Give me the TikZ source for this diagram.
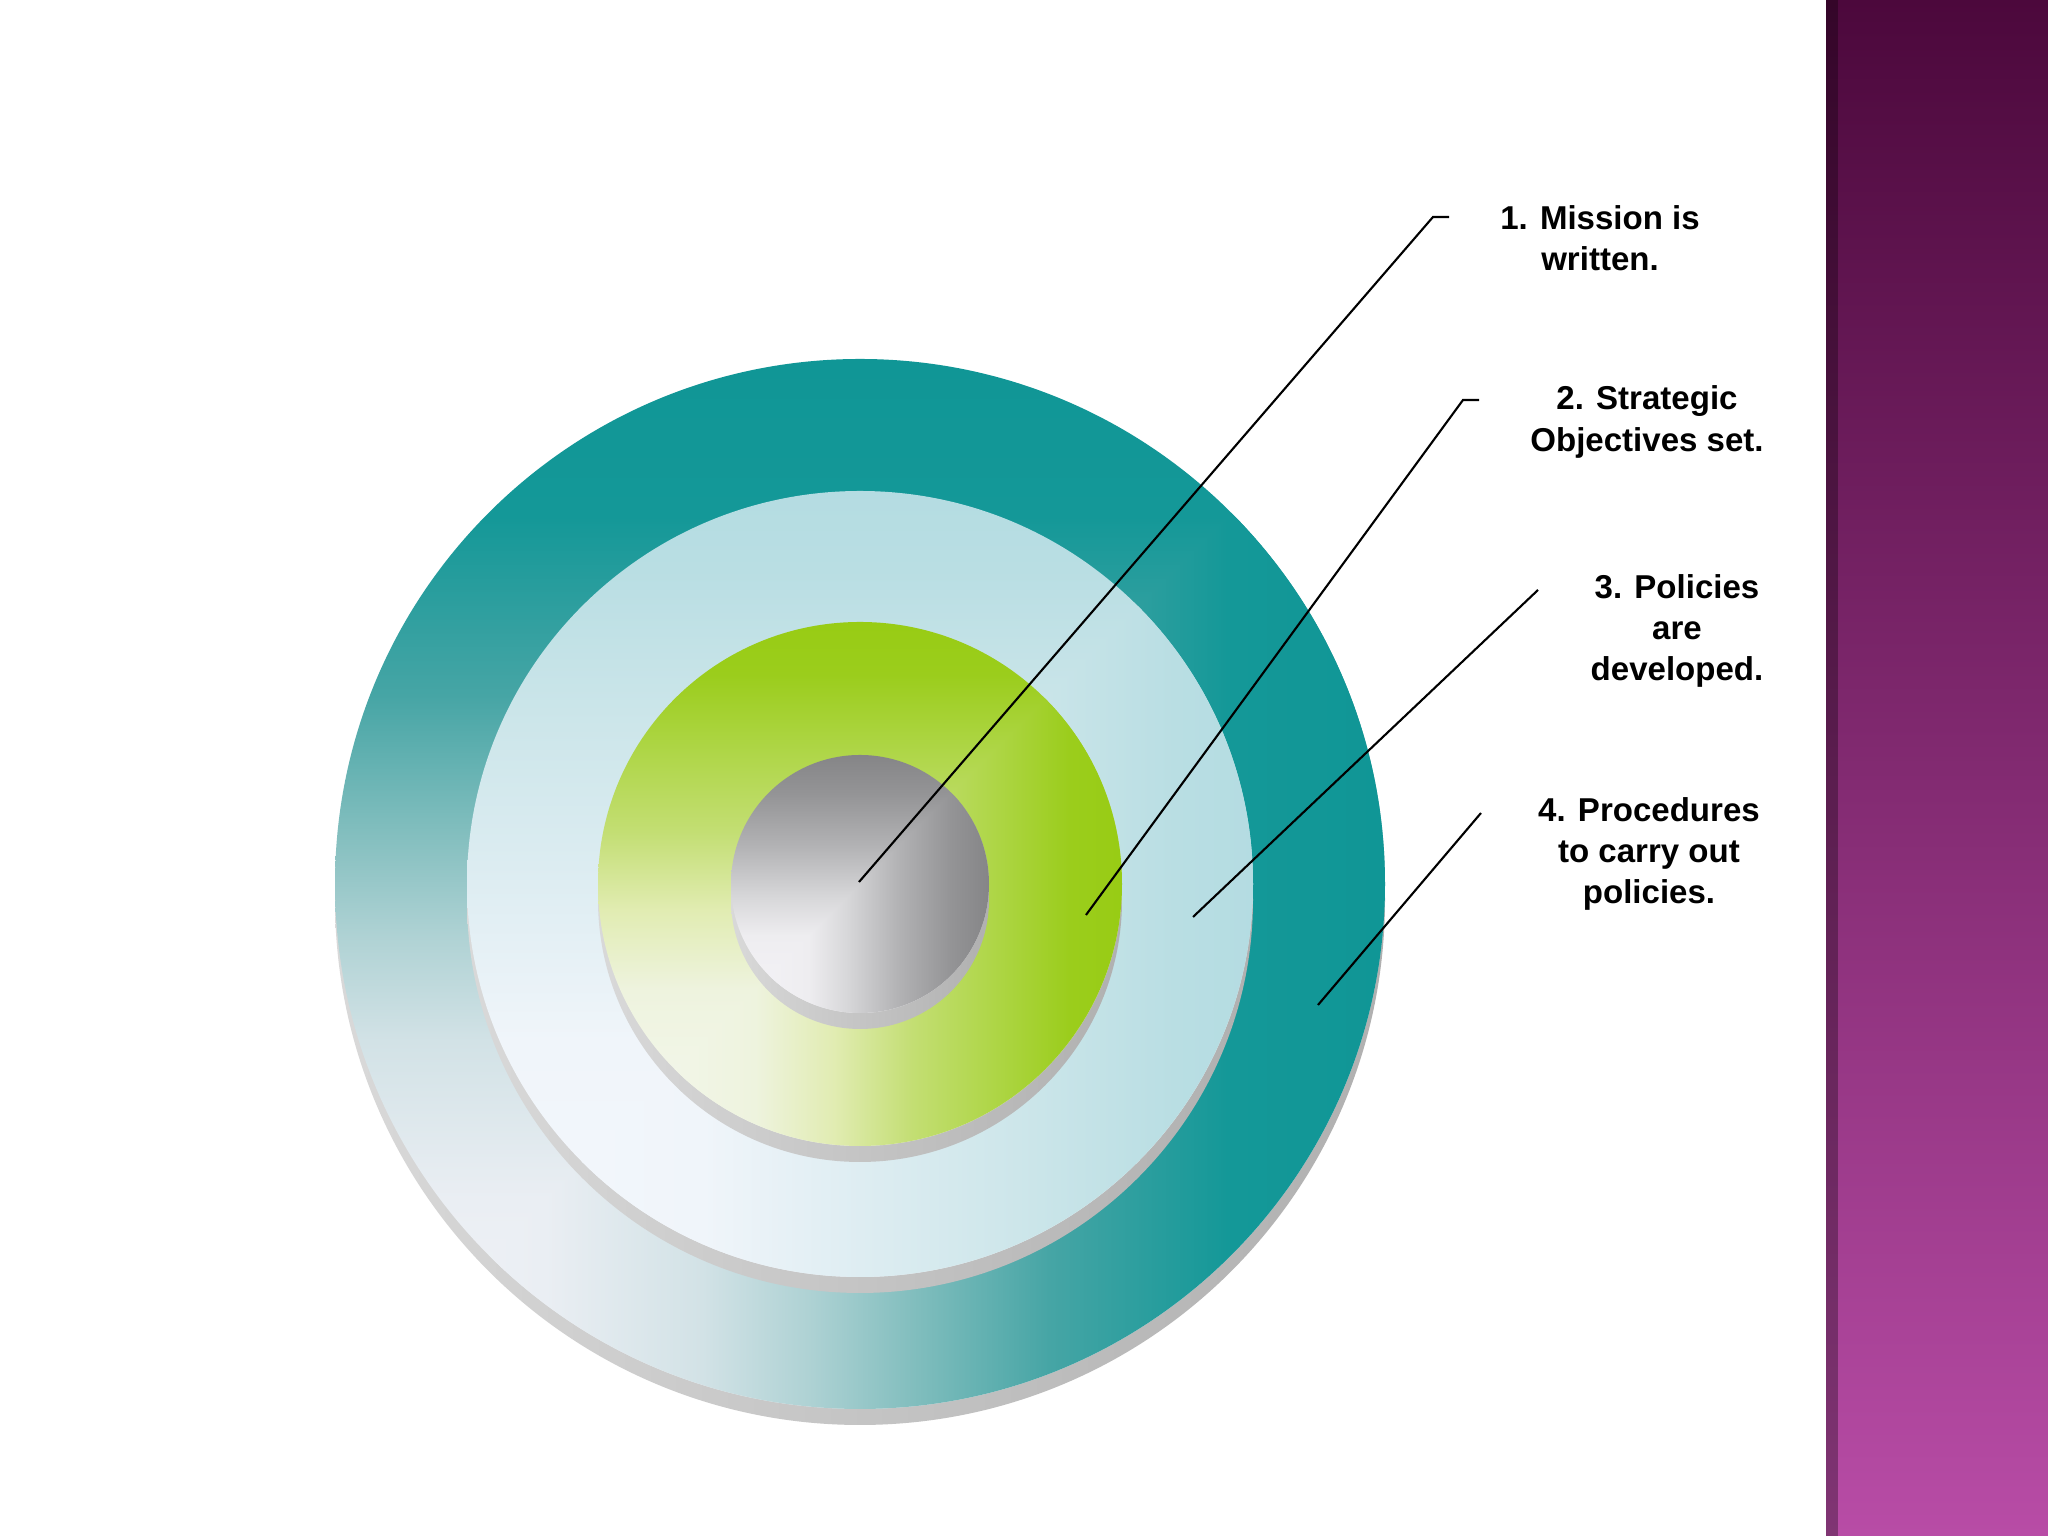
\documentclass[tikz,border=0pt]{standalone}
\usepackage{fontspec}
\setmainfont{Liberation Sans}
\usetikzlibrary{calc}

%% ring colours, light corner to full colour
\definecolor{oA}{RGB}{242,244,248}\definecolor{oB}{RGB}{234,238,243}\definecolor{oC}{RGB}{210,226,230}
\definecolor{oD}{RGB}{175,210,212}\definecolor{oE}{RGB}{130,190,190}\definecolor{oF}{RGB}{70,165,165}
\definecolor{oG}{RGB}{20,152,152}\definecolor{oH}{RGB}{16,150,150}
\definecolor{iA}{RGB}{244,247,252}\definecolor{iB}{RGB}{240,245,250}\definecolor{iC}{RGB}{222,237,242}
\definecolor{iD}{RGB}{205,230,234}\definecolor{iE}{RGB}{185,222,227}\definecolor{iF}{RGB}{180,220,226}
\definecolor{gA}{RGB}{245,248,240}\definecolor{gB}{RGB}{238,243,222}\definecolor{gC}{RGB}{225,236,178}
\definecolor{gD}{RGB}{195,222,115}\definecolor{gE}{RGB}{175,214,72}\definecolor{gF}{RGB}{155,205,28}
\definecolor{gG}{RGB}{152,204,20}
\definecolor{cA}{RGB}{245,244,248}\definecolor{cB}{RGB}{238,237,240}\definecolor{cC}{RGB}{215,215,217}
\definecolor{cD}{RGB}{178,178,180}\definecolor{cE}{RGB}{148,148,150}\definecolor{cF}{RGB}{133,133,135}
\definecolor{barTop}{RGB}{76,8,60}
\definecolor{barMid}{RGB}{128,44,110}
\definecolor{barBot}{RGB}{184,76,166}

\pgfdeclareverticalshading{outerring}{100bp}{color(0bp)=(oA); color(25bp)=(oA); color(35bp)=(oB);
  color(42.5bp)=(oC); color(47.5bp)=(oD); color(52.5bp)=(oE); color(59bp)=(oF); color(67.5bp)=(oG);
  color(75bp)=(oH); color(100bp)=(oH)}
\pgfdeclareverticalshading{icering}{100bp}{color(0bp)=(iA); color(25bp)=(iA); color(40bp)=(iB);
  color(50bp)=(iC); color(60bp)=(iD); color(70bp)=(iE); color(75bp)=(iF); color(100bp)=(iF)}
\pgfdeclareverticalshading{limering}{100bp}{color(0bp)=(gA); color(25bp)=(gA); color(40bp)=(gB);
  color(47.5bp)=(gC); color(55bp)=(gD); color(62.5bp)=(gE); color(70bp)=(gF); color(75bp)=(gG); color(100bp)=(gG)}
\pgfdeclareverticalshading{greycore}{100bp}{color(0bp)=(cA); color(25bp)=(cA); color(40bp)=(cB);
  color(47.5bp)=(cC); color(57.5bp)=(cD); color(67.5bp)=(cE); color(75bp)=(cF); color(100bp)=(cF)}

\begin{document}
\begin{tikzpicture}[
    lbl/.style={font=\fontsize{9.4}{11.7}\selectfont\bfseries, align=center, inner sep=0pt},
    leader/.style={line width=0.6pt, black},
    discshadow/.style={left color=gray!30, right color=gray!62}]
  \useasboundingbox (0,0) rectangle (20.48,15.36);
  \fill[white] (0,0) rectangle (20.48,15.36);

  %% side bar
  \shade[top color=barTop, middle color=barMid, bottom color=barBot] (18.26,0) rectangle (20.48,15.36);
  \fill[black, opacity=0.3] (18.26,0) rectangle (18.38,15.36);

  %% target: vertical fade on the upper left, horizontal fade on the lower right
  \coordinate (c) at (8.60,6.52);
  \foreach \r/\sh in {5.25/outerring,3.93/icering,2.62/limering,1.29/greycore}{
    \shade[discshadow] ($(c)+(0,-0.16)$) circle (\r);
    \begin{scope}
      \clip (c) circle (\r);
      \shade[shading=\sh] ($(c)+(-\r,-\r)$) rectangle ($(c)+(\r,\r)$);
      \shade[shading=\sh, shading angle=-90] ($(c)+(-\r,-\r)$) -- ($(c)+(\r,-\r)$) -- ($(c)+(\r,\r)$) -- cycle;
    \end{scope}
  }

  %% labels
  \node[lbl] (mission) at (16.00,12.98) {1. Mission is\\written.};
  \node[lbl] (objectives) at (16.47,11.14) {2. Strategic\\Objectives set.};
  \node[lbl] (policies) at (16.77,9.05) {3. Policies\\are\\developed.};
  \node[lbl] (procedures) at (16.49,6.82) {4. Procedures\\to carry out\\policies.};

  %% leaders
  \coordinate (m1) at (8.59,6.54);   \coordinate (k1) at (14.33,13.19);
  \coordinate (m2) at (10.86,6.21);  \coordinate (k2) at (14.63,11.36);
  \coordinate (m3) at (11.93,6.19);  \coordinate (k3) at (15.38,9.46);
  \coordinate (m4) at (13.18,5.31);  \coordinate (k4) at (14.81,7.23);
  \draw[leader] (m1) -- (k1) -- ++(0.16,0);
  \draw[leader] (m2) -- (k2) -- ++(0.16,0);
  \draw[leader] (m3) -- (k3);
  \draw[leader] (m4) -- (k4);
\end{tikzpicture}
\end{document}
